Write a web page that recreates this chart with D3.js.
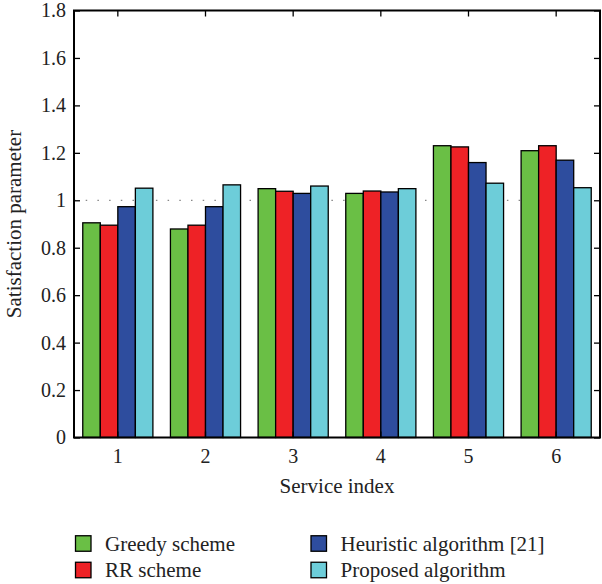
<!DOCTYPE html>
<html><head><meta charset="utf-8">
<script src="https://cdn.jsdelivr.net/npm/d3@7"></script>
<style>body{margin:0;background:#fff}svg{display:block}</style>
</head><body>
<script>
const categories = ["1","2","3","4","5","6"];
const seriesNames = ["Greedy scheme","RR scheme","Heuristic algorithm [21]","Proposed algorithm"];
const greedy    = [0.905, 0.879, 1.049, 1.029, 1.230, 1.209];
const rr        = [0.895, 0.895, 1.038, 1.039, 1.225, 1.230];
const heuristic = [0.973, 0.973, 1.029, 1.035, 1.159, 1.169];
const proposed  = [1.051, 1.065, 1.060, 1.049, 1.072, 1.053];
const yTicks = [0,0.2,0.4,0.6,0.8,1,1.2,1.4,1.6,1.8];
const colors = ["#6abf45","#ee2226","#2e4d9e","#6dcdd9"];
const series = [greedy, rr, heuristic, proposed];

const W=602,H=584;
const L=74,R=600,T=10.5,B=437.5;
const font='"Liberation Serif","DejaVu Serif",serif';
const svg=d3.select("body").append("svg").attr("width",W).attr("height",H);

const x=d3.scaleBand().domain(categories).range([L,R]).paddingInner(0.2).paddingOuter(0.1);
const xs=d3.scaleBand().domain(d3.range(4)).range([0,x.bandwidth()]);
const y=d3.scaleLinear().domain([0,1.8]).range([B,T]);

// reference line at 1
svg.append("line").attr("x1",L).attr("x2",R).attr("y1",y(1)).attr("y2",y(1))
  .attr("stroke","#888").attr("stroke-width",1.3).attr("stroke-dasharray","1.5,10.2");

// bars
const g=svg.append("g");
categories.forEach((c,i)=>{
  series.forEach((s,j)=>{
    g.append("rect").attr("x",x(c)+xs(j)).attr("width",xs.bandwidth())
      .attr("y",y(s[i])).attr("height",y(0)-y(s[i]))
      .attr("fill",colors[j]).attr("stroke","#000").attr("stroke-width",1.3);
  });
});

// axes
const axL=svg.append("g").attr("transform",`translate(${L},0)`)
  .call(d3.axisLeft(y).tickValues(yTicks).tickFormat(d3.format("~g")).tickSizeInner(-6).tickSizeOuter(0).tickPadding(10));
const axR=svg.append("g").attr("transform",`translate(${R},0)`)
  .call(d3.axisRight(y).tickValues(yTicks).tickFormat("").tickSizeInner(-6).tickSizeOuter(0));
const axB=svg.append("g").attr("transform",`translate(0,${B})`)
  .call(d3.axisBottom(x).tickSizeInner(-6).tickSizeOuter(0).tickPadding(11));
const axT=svg.append("g").attr("transform",`translate(0,${T})`)
  .call(d3.axisTop(x).tickFormat("").tickSizeInner(-6).tickSizeOuter(0));
[axL,axR,axB,axT].forEach(a=>{
  a.select(".domain").remove();
  a.selectAll("line").attr("stroke","#000").attr("stroke-width",1.3);
  a.selectAll("text").attr("font-family",font).attr("font-size",20).attr("fill","#222");
});
axL.selectAll("text").attr("dx","0.1em");
svg.append("rect").attr("x",L).attr("y",T).attr("width",R-L).attr("height",B-T)
  .attr("fill","none").attr("stroke","#000").attr("stroke-width",2);

// axis titles
svg.append("text").attr("x",(L+R)/2).attr("y",493).attr("text-anchor","middle")
  .attr("font-family",font).attr("font-size",21).attr("fill","#222").text("Service index");
svg.append("text").attr("transform",`translate(21,${(T+B)/2}) rotate(-90)`).attr("text-anchor","middle")
  .attr("font-family",font).attr("font-size",21).attr("fill","#222").text("Satisfaction parameter");

// legend
const legPos=[[75.5,543.5],[75.5,570],[311,543.5],[311,570]];
seriesNames.forEach((n,j)=>{
  const [lx,ly]=legPos[j];
  svg.append("rect").attr("x",lx).attr("y",ly-7.75).attr("width",15.5).attr("height",15.5)
    .attr("fill",colors[j]).attr("stroke","#000").attr("stroke-width",1.3);
  svg.append("text").attr("x",lx+29.5).attr("y",ly+7).attr("font-family",font).attr("font-size",21)
    .attr("fill","#222").text(n);
});
</script>
</body></html>
